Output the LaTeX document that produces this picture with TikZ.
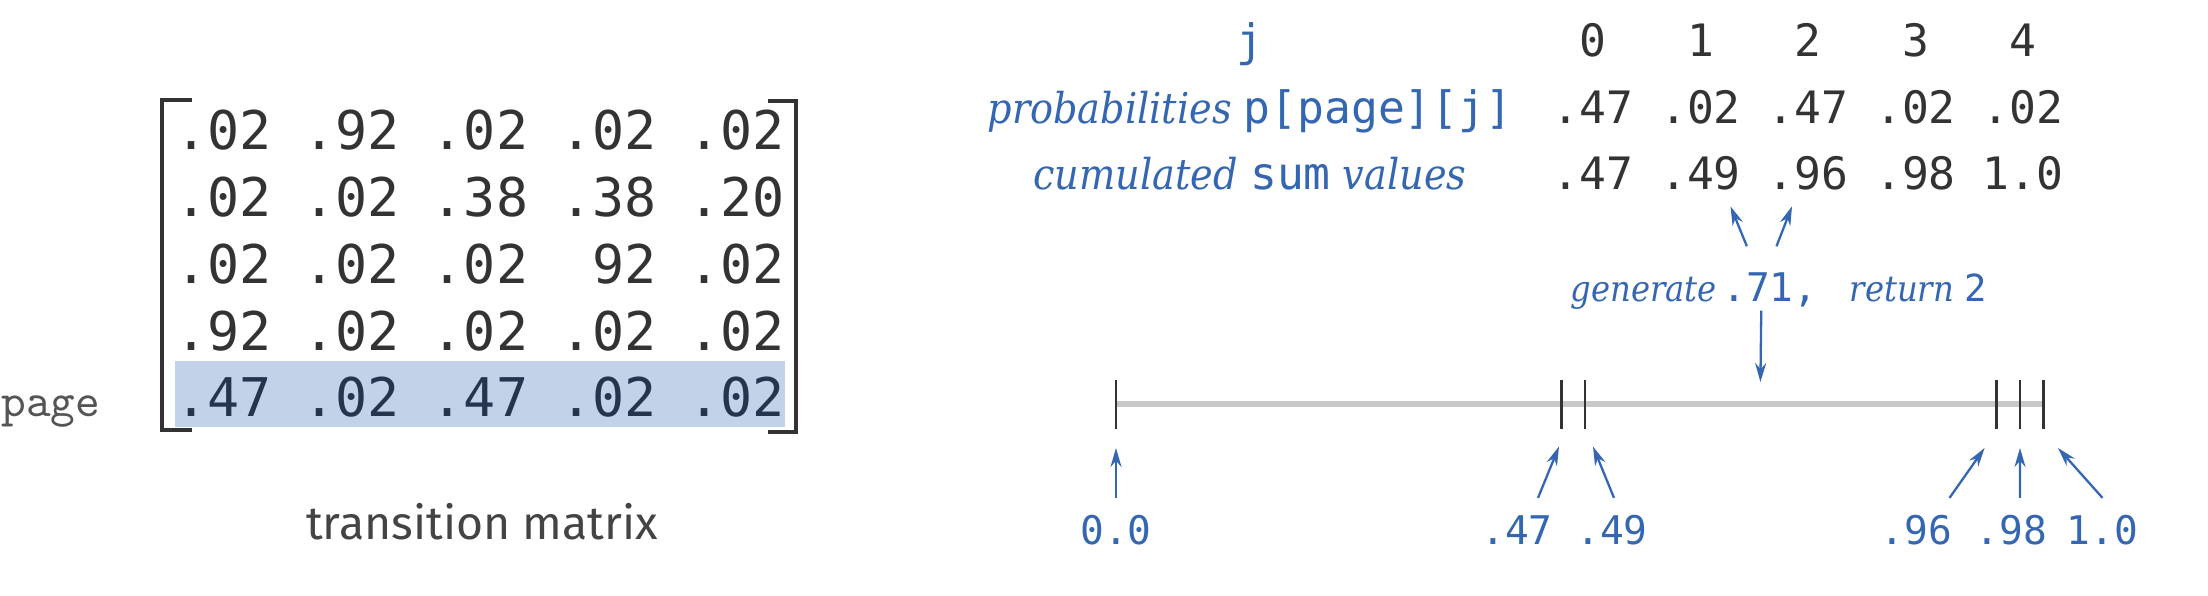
\documentclass[tikz,border=0pt]{standalone}
\usepackage{fontspec}
\setmonofont{DejaVu Sans Mono}
\newfontfamily\pagefont{lmmono10-regular.otf}
\newfontfamily\capfont{Fira Sans}
\newfontfamily\labelfont{DejaVu Serif Condensed}
\usetikzlibrary{arrows.meta}
\definecolor{ink}{RGB}{51,51,51}
\definecolor{bookblue}{RGB}{52,102,178}
\definecolor{rowhi}{RGB}{194,211,233}
\definecolor{rowink}{RGB}{38,52,78}
\definecolor{linegray}{RGB}{200,200,200}
\definecolor{pagegray}{RGB}{85,85,85}
\definecolor{capgray}{RGB}{68,68,68}
\newcommand{\code}[1]{{\fontsize{12.7}{15}\ttfamily\upshape #1}}

\begin{document}
\begin{tikzpicture}
\tikzstyle{mrow}=[anchor=base,inner sep=0,text=ink,font=\fontsize{15.17}{18}\ttfamily]
\tikzstyle{hirow}=[mrow,fill=rowhi,text=rowink,text height=5.6mm,text depth=1.05mm]
\tikzstyle{bracket}=[ink,line width=1.1pt]
\tikzstyle{val}=[anchor=base,inner xsep=0,inner ysep=1.5mm,text=ink,font=\fontsize{12.7}{15}\ttfamily]
\tikzstyle{rowlabel}=[anchor=base,inner sep=0,text=bookblue,font=\fontsize{12.1}{15}\labelfont\itshape]
\tikzstyle{gentext}=[anchor=base west,inner sep=0,text=bookblue,font=\fontsize{10.2}{13}\labelfont\itshape]
\tikzstyle{lab}=[anchor=base,inner sep=0,text height=4.64mm,text=bookblue,font=\fontsize{11.24}{13}\ttfamily]
\tikzstyle{tick}=[ink,line width=0.7pt]
\tikzstyle{arr}=[bookblue,line width=0.65pt,-{Stealth[length=1.9mm,width=1.1mm]}]
\useasboundingbox (0,0) rectangle (22.08,-5.96);
% transition matrix
\node[mrow] (r1) at (4.80,-1.50) {.02 .92 .02 .02 .02};
\node[mrow] (r2) at (4.80,-2.1675) {.02 .02 .38 .38 .20};
\node[mrow] (r3) at (4.80,-2.835) {.02 .02 .02 \phantom{.}92 .02};
\node[mrow] (r4) at (4.80,-3.5025) {.92 .02 .02 .02 .02};
\node[hirow] (r5) at (4.80,-4.17) {.47 .02 .47 .02 .02};
\draw[bracket] (1.92,-0.996) -- (1.618,-0.996) -- (1.618,-4.30) -- (1.92,-4.30);
\draw[bracket] (7.68,-1.01) -- (7.96,-1.01) -- (7.96,-4.32) -- (7.68,-4.32);
\node[anchor=base,inner sep=0,text=pagegray,font=\fontsize{13.4}{16}\pagefont] (page) at (0.51,-4.17) {page};
\node[anchor=base,inner sep=0,text=capgray,font=\fontsize{13.2}{16}\capfont] (cap) at (4.82,-5.40) {transition matrix};
% probabilities and sums
\node[val,text=bookblue] (j) at (12.50,-0.57) {j};
\node[rowlabel] (prob) at (12.50,-1.235) {probabilities \code{p[page][j]}};
\node[rowlabel] (cum) at (12.50,-1.90) {cumulated \code{sum} values};
\foreach \p/\s [count=\i from 0] in {.47/.47,.02/.49,.47/.96,.02/.98,.02/1.0} {
\node[val] (h\i) at (15.93+1.075*\i,-0.57) {\i};
\node[val] (p\i) at (15.93+1.075*\i,-1.235) {\p};
\node[val] (s\i) at (15.93+1.075*\i,-1.90) {\s};
}
% generate and search
\node[gentext] (gen) at (15.70,-3.02) {generate};
\node[gentext,font=\fontsize{11.24}{13}\ttfamily,text height=5.5mm,text depth=0.8mm] (num) at (17.216,-3.02) {.71,};
\node[gentext] (ret) at (18.49,-3.02) {return {\fontsize{10.6}{13}\ttfamily\upshape 2}};
\coordinate (hit) at (17.604,-3.82);
\draw[arr] ([xshift=-0.86mm]num.south) -- (hit);
\draw[arr] ([xshift=-2.3mm]num.north) -- ([xshift=3mm]s1.south);
\draw[arr] ([xshift=0.66mm]num.north) -- ([xshift=-1.6mm]s2.south);
% number line
\draw[linegray,line width=1.7pt] (11.16,-4.04) -- (20.435,-4.04);
\foreach \x in {11.16,15.617,15.85,19.964,20.20,20.435}
\draw[tick] (\x,-3.80) -- (\x,-4.29);
\coordinate (k0) at (11.16,-4.48);
\coordinate (k1) at (15.59,-4.465);
\coordinate (k2) at (15.93,-4.465);
\coordinate (k3) at (19.846,-4.48);
\coordinate (k4) at (20.20,-4.48);
\coordinate (k5) at (20.58,-4.48);
\node[lab] (l0) at (11.16,-5.45) {0.0};
\node[lab] (l1) at (15.17,-5.45) {.47};
\node[lab] (l2) at (16.12,-5.45) {.49};
\node[lab] (l3) at (19.165,-5.45) {.96};
\node[lab] (l4) at (20.115,-5.45) {.98};
\node[lab] (l5) at (21.025,-5.45) {1.0};
\draw[arr] (l0.north) -- (k0);
\draw[arr] ([xshift=2.1mm]l1.north) -- (k1);
\draw[arr] ([xshift=0.2mm]l2.north) -- (k2);
\draw[arr] ([xshift=3.3mm]l3.north) -- (k3);
\draw[arr] ([xshift=0.85mm]l4.north) -- (k4);
\draw[arr] (l5.north) -- (k5);
\end{tikzpicture}
\end{document}
